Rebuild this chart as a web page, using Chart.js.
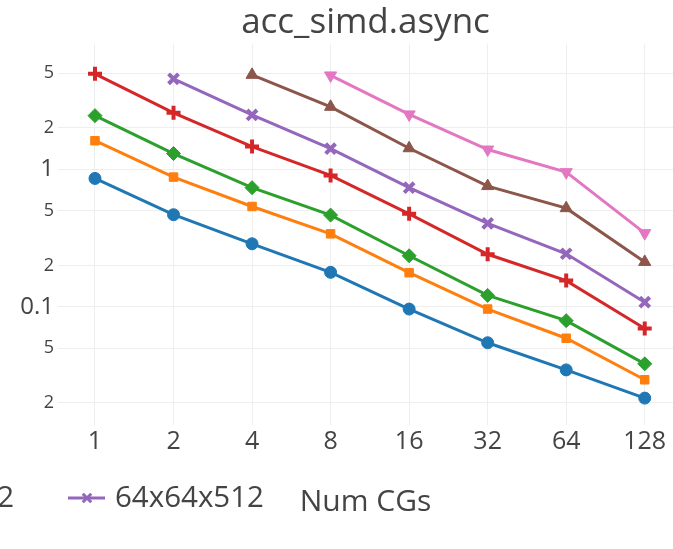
<!DOCTYPE html>
<html>
<head>
<meta charset="utf-8">
<script src="https://cdn.jsdelivr.net/npm/chart.js@4"></script>
<style>
html, body { margin: 0; padding: 0; background: #fff; }
#wrap { width: 673px; height: 549px; }
</style>
</head>
<body>
<div id="wrap"><canvas id="chart"></canvas></div>
<script>
const numCGs = [1, 2, 4, 8, 16, 32, 64, 128];
const seriesNames = ["32x32x64", "32x32x128", "32x32x256", "32x32x512", "64x64x512", "128x128x512", "256x256x512"];
const blue = [0.857, 0.467, 0.287, 0.178, 0.0963, 0.0548, 0.0348, 0.0217];
const orange = [1.61, 0.876, 0.536, 0.339, 0.177, 0.0963, 0.0591, 0.0295];
const green = [2.45, 1.30, 0.734, 0.464, 0.235, 0.121, 0.0793, 0.0385];
const red = [4.93, 2.57, 1.46, 0.901, 0.474, 0.241, 0.155, 0.0695];
const purple = [null, 4.54, 2.48, 1.41, 0.734, 0.404, 0.243, 0.108];
const brown = [null, null, 4.85, 2.84, 1.42, 0.754, 0.521, 0.212];
const pink = [null, null, null, 4.80, 2.50, 1.39, 0.952, 0.343];
const yTicks = [0.02, 0.05, 0.1, 0.2, 0.5, 1, 2, 5];
const yTickLabels = ["2", "5", "0.1", "2", "5", "1", "2", "5"];

const FONT = "'Open Sans', verdana, arial, sans-serif";
const TEXT = "#444";

function points(vals) {
    return numCGs.map((n, i) => ({ x: Math.log2(n), y: vals[i] })).filter(p => p.y !== null);
}

function series(idx, vals, color, style, radius, bw, rot) {
    return {
        label: seriesNames[idx],
        data: points(vals),
        borderColor: color,
        backgroundColor: color,
        borderWidth: 3,
        pointStyle: style,
        pointRadius: radius,
        pointBorderWidth: bw,
        pointRotation: rot || 0,
        pointBackgroundColor: color,
        pointBorderColor: color
    };
}

const datasets = [
    series(0, blue, "#1f77b4", "circle", 6, 1),
    series(1, orange, "#ff7f0e", "rect", 6, 1),
    series(2, green, "#2ca02c", "rectRot", 7, 1),
    series(3, red, "#d62728", "cross", 7, 4),
    series(4, purple, "#9467bd", "crossRot", 7, 4),
    series(5, brown, "#8c564b", "triangle", 7, 1),
    series(6, pink, "#e377c2", "triangle", 7, 1, 180)
];

// legend row: only part of it is visible in the crop
const legendRow = {
    id: "legendRow",
    afterDraw(chart) {
        const ctx = chart.ctx;
        const y = 498;
        ctx.save();
        ctx.font = "29.5px " + FONT;
        ctx.textBaseline = "middle";
        const shown = [3, 4];
        const starts = [];
        const redW = ctx.measureText(seriesNames[3]).width;
        starts.push(14 - redW);
        starts.push(115);
        shown.forEach((di, k) => {
            const ds = chart.data.datasets[di];
            const tx = starts[k];
            ctx.strokeStyle = ds.borderColor;
            ctx.lineWidth = 3;
            ctx.beginPath();
            ctx.moveTo(tx - 47, y);
            ctx.lineTo(tx - 10, y);
            ctx.stroke();
            ctx.fillStyle = ds.borderColor;
            Chart.helpers.drawPoint(ctx, {
                pointStyle: ds.pointStyle,
                radius: ds.pointRadius - 1,
                rotation: ds.pointRotation,
                borderWidth: ds.pointBorderWidth
            }, tx - 28, y);
            ctx.fillStyle = TEXT;
            ctx.fillText(ds.label, tx, y + 1);
        });
        ctx.restore();
    }
};

new Chart(document.getElementById("chart"), {
    type: "line",
    data: { datasets: datasets },
    plugins: [legendRow],
    options: {
        responsive: true,
        maintainAspectRatio: false,
        animation: false,
        layout: { padding: 0, autoPadding: false },
        plugins: {
            legend: { display: false },
            tooltip: { enabled: false },
            title: {
                display: true,
                text: "acc_simd.async",
                fullSize: false,
                color: TEXT,
                font: { family: FONT, size: 35, weight: "normal", lineHeight: 1.2 },
                padding: { top: 2.4, bottom: 0 }
            }
        },
        scales: {
            x: {
                type: "linear",
                min: -0.471,
                max: 7.36,
                afterBuildTicks: scale => {
                    scale.ticks = numCGs.map(n => ({ value: Math.log2(n) }));
                },
                afterFit: scale => {
                    scale.height = 124;
                    scale.paddingLeft = 0;
                    scale.paddingRight = 0;
                },
                ticks: {
                    callback: (v, i) => String(numCGs[i]),
                    color: TEXT,
                    font: { family: FONT, size: 25 },
                    padding: 2,
                    maxRotation: 0,
                    autoSkip: false
                },
                grid: { color: "#eeeeee", lineWidth: 1, drawTicks: false },
                border: { display: false },
                title: {
                    display: true,
                    text: "Num CGs",
                    color: TEXT,
                    font: { family: FONT, size: 30, lineHeight: 1.2 },
                    padding: { top: 0, bottom: 29 }
                }
            },
            y: {
                type: "logarithmic",
                min: 0.01384,
                max: 8.07,
                afterBuildTicks: scale => {
                    scale.ticks = yTicks.map(v => ({ value: v }));
                },
                afterFit: scale => {
                    scale.width = 58;
                    scale.paddingTop = 0;
                    scale.paddingBottom = 0;
                },
                ticks: {
                    callback: (v) => yTickLabels[yTicks.indexOf(v)],
                    color: TEXT,
                    font: ctx => {
                        const v = ctx.tick ? ctx.tick.value : 0;
                        return { family: FONT, size: (v === 0.1 || v === 1) ? 24 : 18 };
                    },
                    padding: 4,
                    autoSkip: false
                },
                grid: { color: "#eeeeee", lineWidth: 1, drawTicks: false },
                border: { display: false }
            }
        }
    }
});
</script>
</body>
</html>
